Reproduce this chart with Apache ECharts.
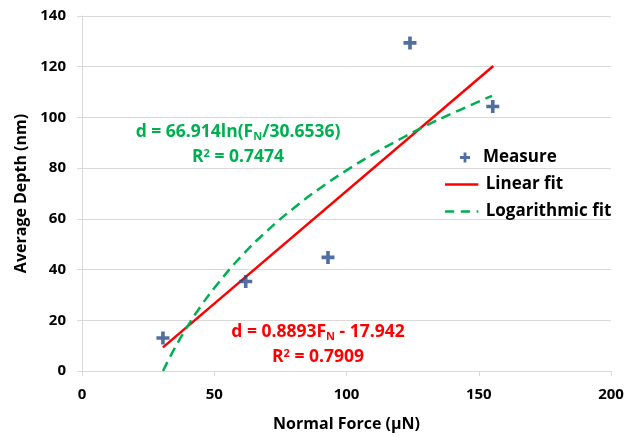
<!DOCTYPE html>
<html><head><meta charset="utf-8">
<script src="https://cdn.jsdelivr.net/npm/echarts@6/dist/echarts.min.js"></script>
<style>html,body{margin:0;padding:0;background:#fff}#c{width:640px;height:437px}</style>
</head><body><div id="c"></div>
<script>
// Measured points
const measureX = [30.6, 61.9, 93.0, 124.0, 155.3];
const measureY = [13.0, 35.3, 44.8, 129.4, 104.3];
// Linear fit line (read endpoints)
const linearX = [30.6, 155.5];
const linearY = [9.3, 120.3];
// Logarithmic fit curve
const logX = [30.65, 35, 40, 45, 50, 60, 70, 80, 90, 100, 110, 120, 130, 140, 155];
const logY = [0, 8.9, 17.8, 25.7, 32.7, 45.0, 55.3, 64.2, 72.1, 79.1, 85.5, 91.3, 96.7, 101.6, 108.5];
const xTicks = [0, 50, 100, 150, 200];
const yTicks = [0, 20, 40, 60, 80, 100, 120, 140];
const seriesNames = ['Measure', 'Linear fit', 'Logarithmic fit'];

const FONT = 'Open Sans';
const BLUE = '#234c8a', RED = '#ff0000', GREEN = '#00b050';
const plus = 'path://M3.6,0 L6.4,0 L6.4,3.6 L10,3.6 L10,6.4 L6.4,6.4 L6.4,10 L3.6,10 L3.6,6.4 L0,6.4 L0,3.6 L3.6,3.6 Z';
const solidIcon = 'path://M0,0 L40,0 L40,3 L0,3 Z';
const dashIcon = 'path://M0,0 L11,0 L11,3 L0,3 Z M19,0 L30,0 L30,3 L19,3 Z M38,0 L40,0 L40,3 L38,3 Z';
const zip = (a, b) => a.map((v, i) => [v, b[i]]);
const legendText = { fontSize: 17, fontWeight: 'bold', color: '#000', fontFamily: FONT };

const chart = echarts.init(document.getElementById('c'));
chart.setOption({
  animation: false,
  textStyle: { fontFamily: FONT },
  grid: { left: 82, right: 29, top: 16, bottom: 65 },
  xAxis: {
    type: 'value', min: 0, max: 200, interval: 50,
    name: 'Normal Force (µN)', nameLocation: 'middle', nameGap: 45,
    nameTextStyle: { fontSize: 16, fontWeight: 'bold', color: '#000', fontFamily: FONT },
    axisLine: { show: true, lineStyle: { color: '#d9d9d9', width: 1 } },
    axisTick: { show: true, length: 5, lineStyle: { color: '#d9d9d9' } },
    axisLabel: { fontSize: 15, fontWeight: 'bold', color: '#000', margin: 16,
      formatter: v => xTicks.includes(v) ? String(v) : '' },
    splitLine: { show: false }
  },
  yAxis: {
    type: 'value', min: 0, max: 140, interval: 20,
    name: 'Average Depth (nm)', nameLocation: 'middle', nameGap: 53, nameRotate: 90,
    nameTextStyle: { fontSize: 16, fontWeight: 'bold', color: '#000', fontFamily: FONT },
    axisLine: { show: true, lineStyle: { color: '#d9d9d9', width: 1 } },
    axisTick: { show: true, length: 5, lineStyle: { color: '#d9d9d9' } },
    axisLabel: { fontSize: 15, fontWeight: 'bold', color: '#000', margin: 16,
      formatter: v => yTicks.includes(v) ? String(v) : '' },
    splitLine: { show: true, lineStyle: { color: '#d9d9d9', width: 1 } }
  },
  legend: [
    { orient: 'vertical', left: 455, top: 144, itemWidth: 10, itemHeight: 10,
      textStyle: Object.assign({ padding: [0, 0, 0, 8] }, legendText),
      data: [{ name: seriesNames[0], icon: plus, itemStyle: { color: BLUE } }] },
    { orient: 'vertical', left: 440, top: 171, itemGap: 10, itemWidth: 38, itemHeight: 2.5,
      textStyle: legendText,
      data: [
        { name: seriesNames[1], icon: solidIcon, itemStyle: { color: RED } },
        { name: seriesNames[2], icon: dashIcon, itemStyle: { color: GREEN } }
      ] }
  ],
  series: [
    { name: seriesNames[0], type: 'scatter', data: zip(measureX, measureY),
      symbol: plus, symbolSize: 13, itemStyle: { color: BLUE }, z: 5 },
    { name: seriesNames[1], type: 'line', data: zip(linearX, linearY),
      symbol: 'none', lineStyle: { color: RED, width: 2.5 }, itemStyle: { color: RED } },
    { name: seriesNames[2], type: 'line', data: zip(logX, logY), smooth: true,
      symbol: 'none', lineStyle: { color: GREEN, width: 2.5, type: [10, 6] }, itemStyle: { color: GREEN } }
  ],
  graphic: [
    { type: 'text', x: 238, y: 120, z: 10, style: {
        text: 'd = 66.914ln(F{s|N}/30.6536)\nR{p|2} = 0.7474',
        fill: GREEN, font: 'bold 17.5px "' + FONT + '"', align: 'center', verticalAlign: 'top', lineHeight: 25,
        rich: { s: { fontSize: 11, fontWeight: 'bold', fill: GREEN, padding: [9,0,0,0], fontFamily: FONT },
                p: { fontSize: 11, fontWeight: 'bold', fill: GREEN, padding: [0,0,8,0], fontFamily: FONT } } } },
    { type: 'text', x: 318, y: 320, z: 10, style: {
        text: 'd = 0.8893F{s|N} - 17.942\nR{p|2} = 0.7909',
        fill: RED, font: 'bold 17.5px "' + FONT + '"', align: 'center', verticalAlign: 'top', lineHeight: 25,
        rich: { s: { fontSize: 11, fontWeight: 'bold', fill: RED, padding: [9,0,0,0], fontFamily: FONT },
                p: { fontSize: 11, fontWeight: 'bold', fill: RED, padding: [0,0,8,0], fontFamily: FONT } } } }
  ]
});
</script></body></html>
